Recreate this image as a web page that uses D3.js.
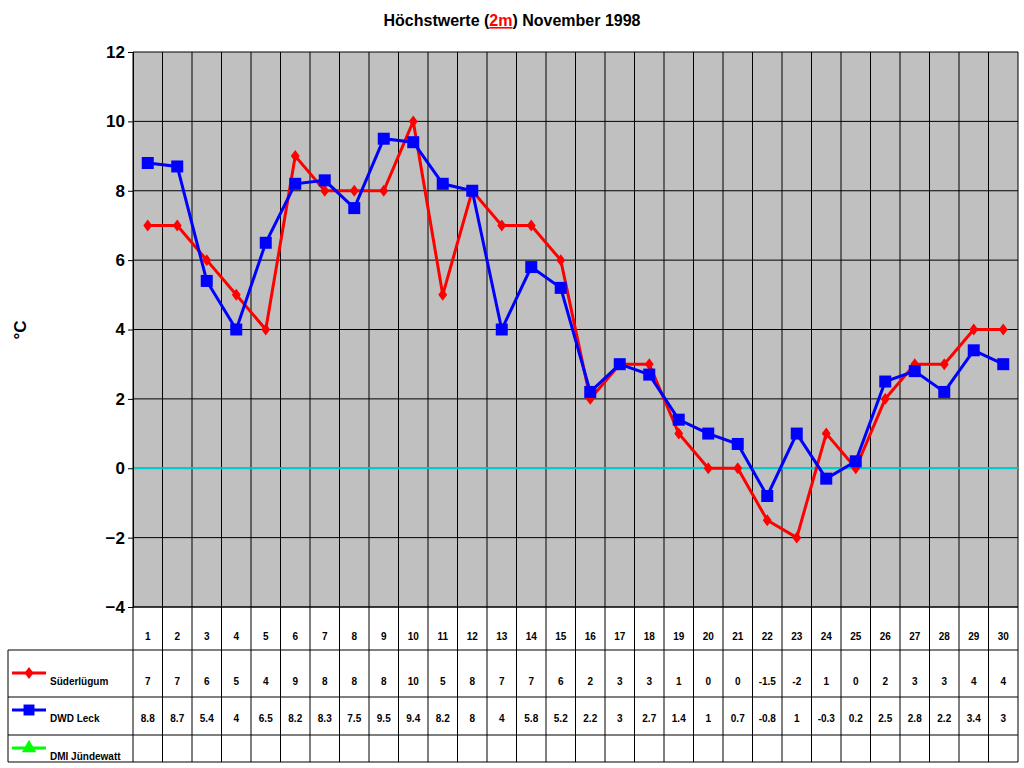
<!DOCTYPE html>
<html><head><meta charset="utf-8">
<script src="https://cdn.jsdelivr.net/npm/d3@7"></script>
<style>body{margin:0;background:#fff}text{font-family:Arial,"Liberation Sans",sans-serif}</style>
</head><body><div id="main"></div>
<script>
const days = d3.range(1, 31);
const suederluegum = [7,7,6,5,4,9,8,8,8,10,5,8,7,7,6,2,3,3,1,0,0,-1.5,-2,1,0,2,3,3,4,4];
const dwdLeck = [8.8,8.7,5.4,4,6.5,8.2,8.3,7.5,9.5,9.4,8.2,8,4,5.8,5.2,2.2,3,2.7,1.4,1,0.7,-0.8,1,-0.3,0.2,2.5,2.8,2.2,3.4,3];
const yTicks = [-4,-2,0,2,4,6,8,10,12];

const width = 1024, height = 768;
const mLeft = 133, mRight = 1018, mTop = 52, mBottom = 607;
const svg = d3.select("#main").append("svg").attr("width", width).attr("height", height);

const x = d3.scaleBand().domain(days).range([mLeft, mRight]);
const y = d3.scaleLinear().domain([-4, 12]).range([mBottom, mTop]);

// title
const t = svg.append("text").attr("x", 512).attr("y", 26).attr("text-anchor", "middle")
  .attr("font-size", 16).attr("font-weight", "bold");
t.append("tspan").text("Höchstwerte (");
t.append("tspan").attr("fill", "red").attr("text-decoration", "underline").text("2m");
t.append("tspan").text(") November 1998");

svg.append("rect").attr("x", mLeft).attr("y", mTop).attr("width", mRight - mLeft).attr("height", mBottom - mTop)
  .attr("fill", "#c0c0c0");

svg.append("g").selectAll("line").data(yTicks).join("line")
  .attr("x1", mLeft).attr("x2", mRight).attr("y1", d => y(d)).attr("y2", d => y(d)).attr("stroke", "#000");

// vertical grid through plot and table
const rows = [607, 650, 697, 735, 762];
svg.append("g").selectAll("line").data(days.concat([31])).join("line")
  .attr("x1", d => d === 31 ? mRight : x(d)).attr("x2", d => d === 31 ? mRight : x(d))
  .attr("y1", mTop).attr("y2", 762).attr("stroke", "#000");
svg.append("g").selectAll("line").data(rows).join("line")
  .attr("x1", (d, i) => i === 0 ? mLeft : 8).attr("x2", mRight).attr("y1", d => d).attr("y2", d => d).attr("stroke", "#000");
svg.append("line").attr("x1", 8).attr("x2", 8).attr("y1", 650).attr("y2", 762).attr("stroke", "#000");

svg.append("line").attr("x1", mLeft).attr("x2", mRight).attr("y1", y(0)).attr("y2", y(0))
  .attr("stroke", "#00cccc").attr("stroke-width", 2);

const yAxis = svg.append("g").attr("transform", `translate(${mLeft},0)`)
  .call(d3.axisLeft(y).tickValues(yTicks).tickSize(5).tickFormat(d3.format("d")));
yAxis.selectAll("text").attr("font-size", 17).attr("font-weight", "bold");
yAxis.select(".domain").attr("stroke", "#000");

svg.append("text").attr("transform", "translate(26,330) rotate(-90)").attr("text-anchor", "middle")
  .attr("font-size", 17).attr("font-weight", "bold").text("°C");

const cx = d => x(d) + x.bandwidth() / 2;
const line = d3.line().x((d, i) => cx(days[i])).y(d => y(d));

svg.append("path").datum(suederluegum).attr("d", line).attr("fill", "none").attr("stroke", "#ff0000").attr("stroke-width", 3);
svg.append("path").datum(dwdLeck).attr("d", line).attr("fill", "none").attr("stroke", "#0000ff").attr("stroke-width", 3);

svg.append("g").selectAll("path").data(suederluegum).join("path")
  .attr("d", d3.symbol(d3.symbolDiamond2, 90)).attr("fill", "#ff0000")
  .attr("transform", (d, i) => `translate(${cx(days[i])},${y(d)}) scale(0.75,1)`);
svg.append("g").selectAll("rect").data(dwdLeck).join("rect")
  .attr("x", (d, i) => cx(days[i]) - 6).attr("y", d => y(d) - 6).attr("width", 12).attr("height", 12).attr("fill", "#0000ff");

// table
const fs = 10;
svg.append("g").selectAll("text").data(days).join("text")
  .attr("x", cx).attr("y", 640).attr("text-anchor", "middle").attr("font-size", fs).attr("font-weight", "bold").text(d => d);
svg.append("g").selectAll("text").data(suederluegum).join("text")
  .attr("x", (d, i) => cx(days[i])).attr("y", 685).attr("text-anchor", "middle").attr("font-size", fs).attr("font-weight", "bold").text(d => d);
svg.append("g").selectAll("text").data(dwdLeck).join("text")
  .attr("x", (d, i) => cx(days[i])).attr("y", 722).attr("text-anchor", "middle").attr("font-size", fs).attr("font-weight", "bold").text(d => d);

// legend keys
const legend = [
  {name: "Süderlügum", color: "#ff0000", y: 673, shape: "diamond"},
  {name: "DWD Leck", color: "#0000ff", y: 710, shape: "square"},
  {name: "DMI Jündewatt", color: "#00ff00", y: 748, shape: "triangle"}
];
legend.forEach(l => {
  svg.append("line").attr("x1", 12).attr("x2", 46).attr("y1", l.y).attr("y2", l.y).attr("stroke", l.color).attr("stroke-width", 3);
  const sym = l.shape === "diamond" ? d3.symbolDiamond2 : l.shape === "square" ? d3.symbolSquare : d3.symbolTriangle;
  svg.append("path").attr("d", d3.symbol(sym, l.shape === "square" ? 120 : 90)).attr("fill", l.color)
    .attr("transform", `translate(29,${l.y})` + (l.shape === "diamond" ? " scale(0.75,1)" : ""));
  svg.append("text").attr("x", 50).attr("y", l.y + 12).attr("font-size", fs).attr("font-weight", "bold").text(l.name);
});
</script>
</body></html>
